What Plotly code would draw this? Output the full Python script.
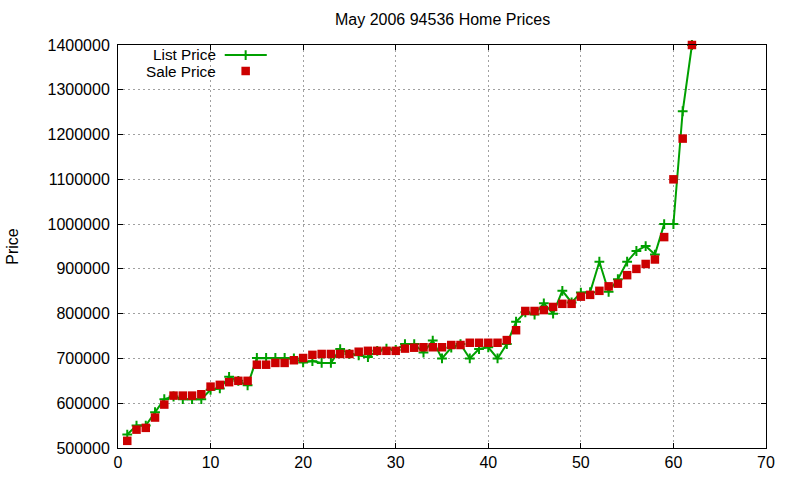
import plotly.graph_objects as go

idx = list(range(1, 63))
list_price = [530000, 550000, 550000, 580000, 609000, 615000, 609000, 609000, 609000, 630000,
              633000, 659000, 650000, 640000, 701000, 701000, 701000, 701000, 700000, 691000,
              694000, 690000, 690000, 721000, 710000, 707000, 703000, 717000, 722000, 719000,
              732000, 732000, 713000, 740000, 700000, 724000, 732000, 700000, 721000, 725000,
              700000, 732000, 782000, 803000, 798000, 823000, 800000, 851000, 825000, 847000,
              848000, 916000, 849000, 877000, 916000, 940000, 951000, 932000, 1000000, 1000000,
              1252000, 1400000]
sale_price = [516000, 541000, 545000, 568000, 597000, 617000, 617000, 617000, 620000, 637000,
              641000, 647000, 650000, 650000, 686000, 686000, 690000, 690000, 696000, 701000,
              708000, 710000, 710000, 710000, 710000, 715000, 717000, 717000, 717000, 717000,
              722000, 724000, 725000, 725000, 725000, 730000, 730000, 735000, 735000, 735000,
              735000, 741000, 763000, 806000, 806000, 808000, 815000, 822000, 822000, 838000,
              842000, 851000, 861000, 867000, 886000, 900000, 911000, 921000, 971000, 1100000,
              1191000, 1400000]

GREEN = "#00a000"
RED = "#cc0000"
FONT = "Liberation Sans, Arial, sans-serif"
FS_TICK = 16
FS_TITLE = 16
FS_LEG = 15.3

fig = go.Figure()
fig.add_trace(go.Scatter(x=idx, y=list_price, mode="lines+markers", name="List Price",
                         line=dict(color=GREEN, width=2),
                         marker=dict(symbol="cross-thin", size=7, line=dict(color=GREEN, width=2)),
                         showlegend=False, cliponaxis=False))
fig.add_trace(go.Scatter(x=idx, y=sale_price, mode="markers", name="Sale Price",
                         marker=dict(symbol="square", size=8.5, color=RED, line=dict(width=0)),
                         showlegend=False, cliponaxis=False))

# manual gnuplot-style legend (text left of sample)
fig.add_trace(go.Scatter(x=[0.1647, 0.2296], y=[0.975, 0.975], mode="lines",
                         line=dict(color=GREEN, width=2), xaxis="x2", yaxis="y2",
                         showlegend=False, hoverinfo="skip"))
fig.add_trace(go.Scatter(x=[0.197], y=[0.975], mode="markers",
                         marker=dict(symbol="cross-thin", size=7, line=dict(color=GREEN, width=2)),
                         xaxis="x2", yaxis="y2", showlegend=False, hoverinfo="skip"))
fig.add_trace(go.Scatter(x=[0.197], y=[0.9355], mode="markers",
                         marker=dict(symbol="square", size=8.5, color=RED),
                         xaxis="x2", yaxis="y2", showlegend=False, hoverinfo="skip"))

axis_common = dict(showline=True, linecolor="black", linewidth=1, mirror="allticks",
                   ticks="inside", ticklen=5, tickcolor="black", automargin=False,
                   showgrid=True, gridcolor="#a0a0a0", griddash="2px,3px", gridwidth=1,
                   zeroline=False, tickfont=dict(family=FONT, size=FS_TICK, color="black"))

fig.update_layout(
    width=800, height=480,
    margin=dict(l=118, r=34, t=45, b=32),
    paper_bgcolor="white", plot_bgcolor="white",
    font=dict(family=FONT, size=FS_TICK, color="black"),
    xaxis=dict(range=[0, 70], dtick=10, **axis_common),
    yaxis=dict(range=[500000, 1400000], dtick=100000, tickformat="d", ticklabelstandoff=4,
               title=dict(text="Price", font=dict(family=FONT, size=FS_TICK), standoff=24),
               **axis_common),
    xaxis2=dict(range=[0, 1], overlaying="x", visible=False),
    yaxis2=dict(range=[0, 1], overlaying="y", visible=False),
    annotations=[
        dict(text="May 2006 94536 Home Prices", xref="paper", yref="paper",
             x=0.5, y=(448 - 20) / 403, xanchor="center", yanchor="middle",
             showarrow=False, font=dict(family=FONT, size=FS_TITLE)),
        dict(text="List Price", xref="paper", yref="paper", x=0.1525, y=(448 - 63.5) / 403,
             xanchor="right", yanchor="bottom", borderpad=0, showarrow=False,
             font=dict(family=FONT, size=FS_LEG)),
        dict(text="Sale Price", xref="paper", yref="paper", x=0.1525, y=(448 - 62) / 403,
             xanchor="right", yanchor="top", borderpad=0, showarrow=False,
             font=dict(family=FONT, size=FS_LEG)),
    ],
)

fig.write_html("out.html")
